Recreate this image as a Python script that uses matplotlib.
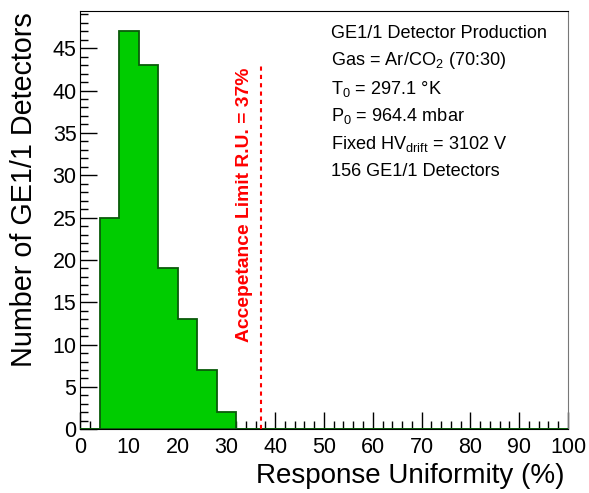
import numpy as np
import matplotlib
matplotlib.use('Agg')
import matplotlib.pyplot as plt
from matplotlib.ticker import MultipleLocator

plt.rcParams['font.family'] = ['Liberation Sans', 'DejaVu Sans']
plt.rcParams['mathtext.fontset'] = 'custom'
plt.rcParams['mathtext.rm'] = 'Liberation Sans'
plt.rcParams['mathtext.it'] = 'Liberation Sans'

# histogram: response uniformity, bins of 4 % from 0 to 100
edges = np.arange(0, 104, 4)
counts = [0, 25, 47, 43, 19, 13, 7, 2, 0, 0, 0, 0, 0,
          0, 0, 0, 0, 0, 0, 0, 0, 0, 0, 0, 0]
limit = 37
info = ['GE1/1 Detector Production',
        r'Gas = Ar/CO$_2$ (70:30)',
        r'T$_0$ = 297.1 °K',
        r'P$_0$ = 964.4 mbar',
        r'Fixed HV$_{\mathrm{drift}}$ = 3102 V',
        '156 GE1/1 Detectors']

fig = plt.figure(figsize=(5.89, 4.93), dpi=100)
ax = fig.add_axes([0.1358, 0.1292, 0.8285, 0.8478])

ax.stairs(counts, edges, fill=True, color='#00cc00', zorder=2)
ax.stairs(counts, edges, color='#0a5a0a', lw=1.3, zorder=3)
ax.plot([0, 100], [0, 0], color='#0a5a0a', lw=1.3, zorder=3)

# acceptance limit
ax.plot([limit, limit], [0, 43], color='red', ls=(0, (2, 2)), lw=1.5, zorder=4)
ax.text(limit - 3.2, 26.5, 'Accepetance Limit R.U. = 37%', rotation=90,
        color='red', fontsize=13.9, fontweight='bold', ha='center', va='center')

ax.set_xlim(0, 100)
ax.set_ylim(0, 47 * 1.05)
ax.xaxis.set_major_locator(MultipleLocator(10))
ax.xaxis.set_minor_locator(MultipleLocator(2))
ax.yaxis.set_major_locator(MultipleLocator(5))
ax.yaxis.set_minor_locator(MultipleLocator(1))
ax.tick_params(which='both', direction='in', top=False, right=False,
               labelsize=15.5, color='black')
ax.tick_params(which='major', length=12, width=1)
ax.tick_params(which='minor', length=6, width=1)
ax.tick_params(axis='x', pad=5.5)
ax.tick_params(axis='y', pad=2.5)
ax.spines['right'].set_color('#777777')

ax.set_xlabel('Response Uniformity (%)', fontsize=20)
ax.set_ylabel('Number of GE1/1 Detectors', fontsize=20.7)
ax.xaxis.set_label_coords(0.992, -0.1285)
ax.xaxis.label.set_ha('right')
ax.xaxis.label.set_va('baseline')
ax.yaxis.set_label_coords(-0.098, 0.998)
ax.yaxis.label.set_ha('right')
ax.yaxis.label.set_va('baseline')

for i, line in enumerate(info):
    fig.text(331 / 589, 1 - (33 + i * 27.8) / 493, line, fontsize=13.1,
             ha='left', va='center')

fig.savefig('out.png', dpi=100)
